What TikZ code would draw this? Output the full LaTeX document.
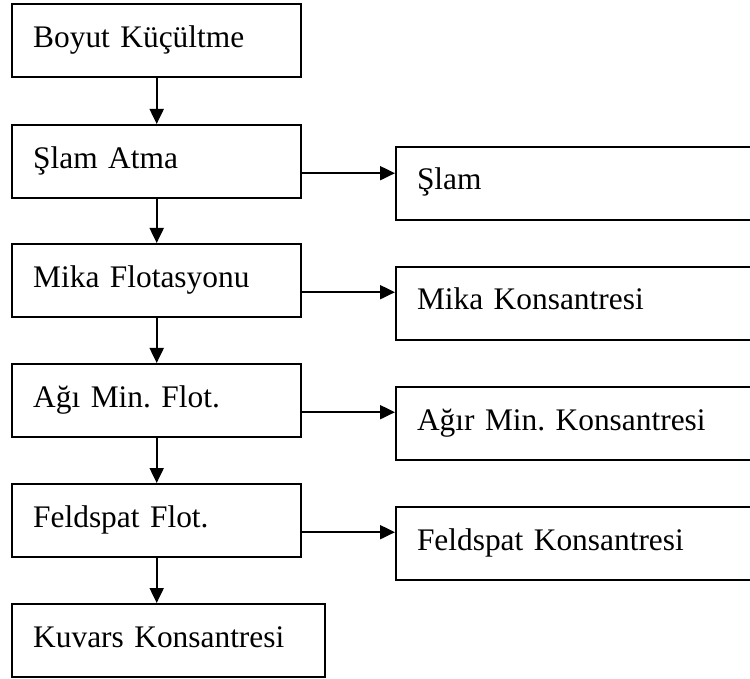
\documentclass[tikz,border=0pt]{standalone}
\usepackage{fontspec}
\setmainfont{Liberation Serif}
\usetikzlibrary{arrows.meta}
\frenchspacing

\begin{document}
\begin{tikzpicture}[x=0.5pt, y=-0.5pt,
      b/.style={draw, line width=1.2pt, anchor=north west, align=left,
                font=\fontsize{15.7}{18}\selectfont,
                text width=123.5pt, inner xsep=10.5pt,
                minimum height=36.5pt, text height=11pt, text depth=4.5pt},
      wide/.style={text width=135.5pt},
      r/.style={b, line width=1pt, text width=179pt},
      ar/.style={-{Triangle[length=7.5pt, width=7pt]}, line width=1pt}
    ]
    \path[use as bounding box, clip] (0,0) rectangle (750,679);

    \node[b]       (bk) at (11,3)   {Boyut Küçültme};
    \node[b]       (sa) at (11,124) {Şlam Atma};
    \node[b]       (mf) at (11,243) {Mika Flotasyonu};
    \node[b]       (am) at (11,363) {Ağı Min. Flot.};
    \node[b]       (ff) at (11,483) {Feldspat Flot.};
    \node[b, wide] (kk) at (11,603) {Kuvars Konsantresi};

    \node[r] (sl) at (395,146) {Şlam};
    \node[r] (mk) at (395,266) {Mika Konsantresi};
    \node[r] (ak) at (395,386) {Ağır Min. Konsantresi};
    \node[r] (fk) at (395,506) {Feldspat Konsantresi};

    \draw[ar] (bk) -- (sa);
    \draw[ar] (sa) -- (mf);
    \draw[ar] (mf) -- (am);
    \draw[ar] (am) -- (ff);
    \draw[ar] (ff.south) -- (ff.south |- kk.north);

    \draw[ar] ([yshift=-5.75pt]sa.east) -- ([yshift=-5.75pt]sa.east -| sl.west);
    \draw[ar] ([yshift=-5.75pt]mf.east) -- ([yshift=-5.75pt]mf.east -| mk.west);
    \draw[ar] ([yshift=-5.75pt]am.east) -- ([yshift=-5.75pt]am.east -| ak.west);
    \draw[ar] ([yshift=-5.75pt]ff.east) -- ([yshift=-5.75pt]ff.east -| fk.west);
  \end{tikzpicture}
\end{document}
